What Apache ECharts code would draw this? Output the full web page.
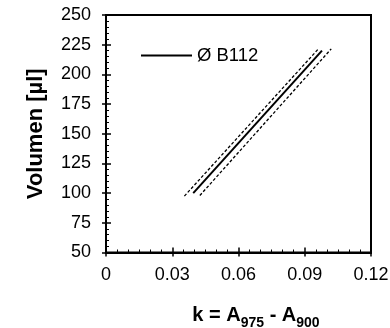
<!DOCTYPE html>
<html>
<head>
<meta charset="utf-8">
<script src="https://cdn.jsdelivr.net/npm/echarts@6/dist/echarts.min.js"></script>
<style>
html,body{margin:0;padding:0;background:#fff;}
#chart{width:390px;height:328px;}
</style>
</head>
<body>
<div id="chart"></div>
<script>
// Data
const seriesName = 'Ø B112';
const kFit = [0.0395, 0.0978];
const volFit = [100, 220];
const kBandLeft = [0.0355, 0.0962];
const volBandLeft = [97.5, 221.5];
const kBandRight = [0.0425, 0.1020];
const volBandRight = [98, 221.5];
const xTicks = [0, 0.03, 0.06, 0.09, 0.12];
const yTicks = [50, 75, 100, 125, 150, 175, 200, 225, 250];

const FONT = '"Liberation Sans", Arial, sans-serif';
function pairs(xs, ys){ return xs.map((x,i)=>[x, ys[i]]); }

const xCommon = {
  type: 'value', min: xTicks[0], max: xTicks[xTicks.length-1], interval: 0.03,
  position: 'bottom', splitLine: {show:false},
  axisLine: {lineStyle:{color:'#000', width:2}}
};
const yCommon = {
  type: 'value', min: yTicks[0], max: yTicks[yTicks.length-1], interval: 25,
  position: 'left', splitLine: {show:false},
  axisLine: {lineStyle:{color:'#000', width:2}}
};

const chart = echarts.init(document.getElementById('chart'), null, {renderer:'canvas'});
chart.setOption({
  animation: false,
  backgroundColor: '#fff',
  textStyle: {fontFamily: FONT},
  grid: {left:106, right:19, top:15, bottom:75.5, show:true, borderColor:'#000', borderWidth:2,
    backgroundColor:'transparent', containLabel:false, outerBoundsMode:'none'},
  legend: {
    left: 141, top: 46, padding: 0, itemWidth: 51, itemHeight: 2, icon: 'rect',
    data: [seriesName],
    textStyle: {fontFamily: FONT, fontSize: 18.5, color:'#000'}
  },
  xAxis: [
    Object.assign({}, xCommon, {
      axisTick: {show:true, inside:false, length:4, lineStyle:{color:'#000', width:1.5}},
      minorTick: {show:false},
      axisLabel: {show:true, margin:14, fontSize:18, color:'#000', fontFamily: FONT,
        formatter: v => String(+v.toFixed(2))},
      name: 'k = A{s|975} - A{s|900}',
      nameLocation: 'middle', nameGap: 51,
      nameTextStyle: {
        fontFamily: FONT, fontSize: 20, fontWeight: 'bold', color: '#000',
        lineHeight: 24, padding: [0,0,0,35],
        rich: {s: {fontFamily: FONT, fontSize: 14, fontWeight:'bold', color:'#000', lineHeight: 14, verticalAlign:'bottom', padding:[0,0,-3,0]}}
      }
    }),
    Object.assign({}, xCommon, {
      axisTick: {show:true, inside:true, length:5, lineStyle:{color:'#000', width:1.5}},
      minorTick: {show:true, splitNumber:6, length:3, lineStyle:{color:'#000', width:1}},
      axisLabel: {show:false}
    })
  ],
  yAxis: [
    Object.assign({}, yCommon, {
      axisTick: {show:true, inside:false, length:4, lineStyle:{color:'#000', width:1.5}},
      minorTick: {show:false},
      axisLabel: {show:true, margin:15, fontSize:18, color:'#000', fontFamily: FONT},
      name: 'Volumen [µl]',
      nameLocation: 'middle', nameGap: 59,
      nameTextStyle: {fontFamily: FONT, fontSize: 22, fontWeight: 'bold', color:'#000'}
    }),
    Object.assign({}, yCommon, {
      axisTick: {show:true, inside:true, length:5, lineStyle:{color:'#000', width:1.5}},
      minorTick: {show:true, splitNumber:5, length:3, lineStyle:{color:'#000', width:1}},
      axisLabel: {show:false}
    })
  ],
  series: [
    {name: seriesName, type:'line', xAxisIndex:0, yAxisIndex:0, data: pairs(kFit, volFit),
      symbol:'none', lineStyle:{color:'#000', width:2}, itemStyle:{color:'#000'}},
    {name: 'band-left', type:'line', xAxisIndex:0, yAxisIndex:0, data: pairs(kBandLeft, volBandLeft),
      symbol:'none', lineStyle:{color:'#000', width:1.3, type:[3,2]}},
    {name: 'band-right', type:'line', xAxisIndex:0, yAxisIndex:0, data: pairs(kBandRight, volBandRight),
      symbol:'none', lineStyle:{color:'#000', width:1.3, type:[3,2]}}
  ]
});
</script>
</body>
</html>
